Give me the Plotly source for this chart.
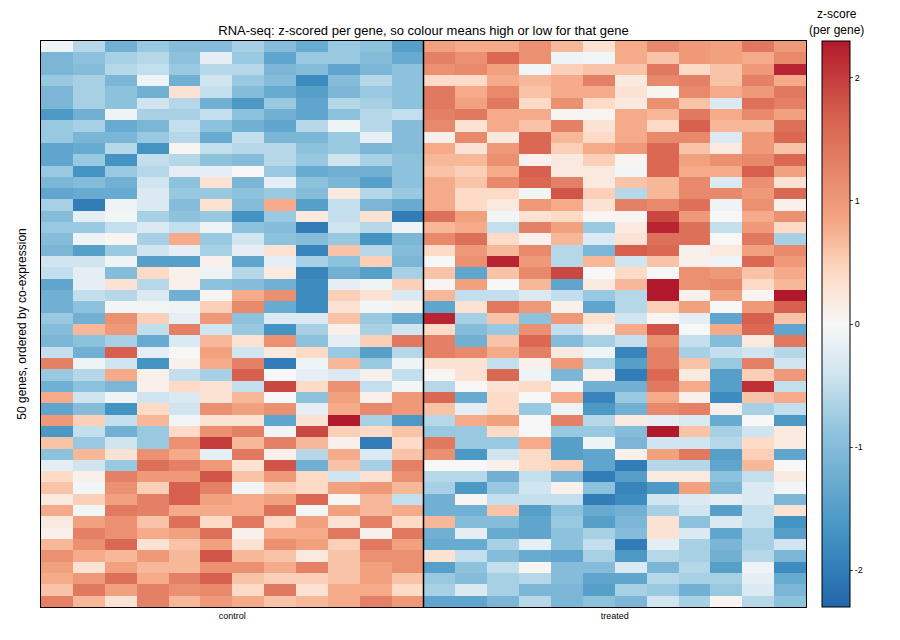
import plotly.graph_objects as go

control = [
[-0.1,-0.6,-1.2,-0.8,-1.0,-1.0,-0.7,-1.0,-1.3,-0.8,-0.9,-1.5],
[-1.1,-0.9,-0.7,-0.6,-0.9,-0.2,-0.8,-1.4,-0.8,-0.8,-1.0,-1.3],
[-1.1,-1.0,-0.6,-0.5,-0.8,-0.6,-0.6,-1.1,-1.0,-1.4,-1.1,-0.9],
[-0.8,-0.7,-1.1,-0.1,-1.2,-0.4,-0.8,-1.0,-1.8,-1.0,-0.6,-0.9],
[-1.1,-0.7,-0.9,-1.2,0.3,-0.5,-1.0,-1.3,-1.5,-1.1,-0.8,-0.9],
[-1.1,-0.7,-0.9,-0.4,-0.6,-1.2,-1.6,-0.8,-1.4,-0.6,-0.7,-0.9],
[-1.6,-1.2,-0.1,-0.7,-0.7,-0.5,-0.9,-1.2,-1.4,-0.9,-0.6,-0.5],
[-0.8,-0.7,-1.3,-1.1,-0.5,-0.9,-1.2,-1.4,-0.6,-0.1,-0.6,-1.0],
[-0.8,-1.1,-1.1,-0.8,-0.6,-1.3,-0.5,-1.1,-1.1,-0.8,-0.2,-1.0],
[-1.4,-1.3,-0.6,-1.7,0.05,-0.5,-0.6,-0.6,-0.9,-0.8,-1.1,-1.0],
[-1.4,-0.8,-1.7,-0.5,-0.6,-0.9,-1.0,-0.6,-0.8,-0.4,-0.7,-0.9],
[-0.8,-1.7,-0.8,-0.6,-0.2,-0.2,0.0,-0.8,-1.3,-1.2,-1.2,-0.9],
[-1.1,-1.0,-1.2,-0.4,-0.9,0.3,-1.1,-0.2,-0.9,-1.1,-1.5,-0.9],
[-1.4,-1.3,-1.3,-0.3,-0.8,-0.8,-0.9,-0.8,-1.0,0.2,-0.6,-0.8],
[-0.7,-2.0,-0.1,-0.3,-1.0,0.3,-1.0,0.8,-1.5,-0.5,-1.1,-1.3],
[-1.0,-0.2,-0.05,-0.7,-0.9,-0.8,-1.7,-0.8,0.2,-0.5,0.3,-2.0],
[-0.8,-0.8,-0.5,-0.3,-0.5,-0.1,-0.9,-1.0,-2.0,-0.4,-0.6,-0.1],
[-1.0,-0.1,0.05,-0.7,0.8,-0.8,-0.4,-0.9,-1.0,-0.8,-1.7,-1.1],
[-1.1,-1.5,-0.8,-0.4,-0.2,-0.7,-0.2,0.3,-1.9,0.6,-0.6,-1.0],
[-0.4,-0.4,-0.1,-1.5,-1.5,0.1,-1.4,-0.2,-0.7,-0.9,0.5,-1.1],
[-0.5,-0.2,-1.0,0.4,0.1,-0.1,-0.6,0.2,-1.9,-1.2,-1.5,-0.7],
[-1.4,-0.2,0.3,-0.6,0.1,-0.9,-1.0,-1.2,-1.8,-0.2,-0.1,0.5],
[-1.2,-0.5,-0.6,-0.3,-1.2,0.05,0.8,1.1,-1.8,0.5,0.3,-0.3],
[-1.2,-0.9,-0.05,-0.05,-0.1,0.5,1.2,-1.3,-1.8,0.3,-0.05,0.1],
[-0.8,-1.2,1.1,0.5,-0.2,1.0,-0.9,-0.3,-0.3,0.6,-0.8,-1.3],
[-1.0,0.7,1.0,-0.5,1.3,-0.4,-0.8,-1.7,-0.7,0.1,-0.7,-0.4],
[-1.1,-0.9,-0.7,-1.3,-0.3,0.7,0.3,1.1,-0.9,-0.2,0.5,1.4],
[-0.5,-1.2,1.7,-0.2,0.0,0.9,-0.4,0.2,0.4,-0.8,-1.5,-0.6],
[1.3,-0.1,-0.4,-1.7,0.1,0.8,1.3,-2.0,-0.1,0.7,-0.8,-0.1],
[-0.8,-0.6,0.8,0.1,-0.5,-0.7,1.7,0.0,-0.2,-0.3,0.1,-0.5],
[-1.2,-0.9,-1.1,0.1,0.4,0.3,-0.5,1.9,0.4,1.1,-0.5,-0.05],
[0.8,-0.4,-0.1,-0.4,-0.3,0.3,0.7,0.0,-0.9,0.9,0.1,1.0],
[-1.4,-1.0,-1.7,0.4,-0.4,1.1,0.9,1.1,-0.2,0.8,1.2,1.0],
[1.0,0.5,-0.5,0.7,-0.05,0.3,0.3,-1.4,0.3,2.3,-0.7,-1.6],
[-1.6,-0.5,-1.2,-0.8,0.4,1.1,1.3,-0.05,1.9,0.5,0.4,0.6],
[0.6,-0.8,-0.4,-0.8,1.1,2.0,0.7,1.3,0.7,0.1,-2.0,0.4],
[-0.9,0.7,0.3,1.1,0.8,-0.2,1.4,0.1,-0.6,0.8,-0.3,0.6],
[-0.2,-0.4,-0.8,1.5,1.3,1.0,0.3,1.8,-1.2,0.6,-0.7,1.3],
[0.4,0.1,1.3,1.0,1.0,1.8,0.6,1.0,0.4,-0.4,0.3,1.1],
[0.6,-0.05,1.1,0.5,1.7,1.3,-0.05,0.5,0.4,0.9,1.0,0.7],
[0.2,0.5,0.9,1.3,1.7,0.9,0.8,0.9,1.6,0.05,0.7,-0.5],
[0.8,-0.05,1.4,1.3,0.8,0.8,0.8,1.5,-0.05,0.9,0.7,0.8],
[0.2,0.9,1.1,0.6,1.5,0.4,1.4,0.4,0.9,0.3,1.3,0.4],
[0.1,1.3,1.1,0.8,0.9,1.5,0.1,0.8,0.8,1.4,0.1,1.4],
[0.7,1.1,1.6,0.3,0.6,0.9,0.3,1.1,0.9,0.5,1.4,0.9],
[1.1,0.8,0.7,1.0,0.7,1.8,0.7,0.6,0.2,0.6,1.1,1.1],
[0.9,0.3,0.9,0.7,0.7,1.1,1.1,0.8,1.3,0.6,0.9,1.1],
[0.8,1.0,1.5,0.8,1.3,1.7,0.6,0.5,0.5,0.6,0.9,0.6],
[0.6,1.4,0.9,1.3,1.1,1.2,0.4,1.4,0.3,0.8,0.8,0.4],
[1.3,0.7,0.3,1.3,0.7,1.0,0.8,0.6,0.7,0.8,1.3,1.0],
]

treated = [
[0.9,0.8,0.8,1.1,0.7,0.3,0.8,1.2,1.0,0.9,1.4,1.0],
[1.3,1.1,1.6,1.1,-0.1,-0.05,0.8,0.6,1.0,0.9,0.8,1.2],
[1.1,1.2,0.9,-0.05,0.5,0.6,0.6,1.4,0.4,0.6,1.0,2.2],
[0.4,0.4,0.8,0.7,0.8,1.3,0.2,1.2,1.3,0.6,1.3,0.8],
[1.4,0.8,1.2,0.6,0.8,0.8,0.3,0.05,1.2,0.8,1.0,1.4],
[1.4,0.9,1.4,0.4,1.1,0.4,0.2,1.1,0.6,-0.3,1.5,1.3],
[1.3,1.4,0.8,0.8,0.05,0.05,0.8,0.7,1.4,0.8,1.2,0.9],
[1.2,0.3,0.8,0.6,1.3,0.3,0.8,0.4,1.7,0.7,0.7,1.5],
[0.1,1.2,0.2,1.6,0.7,0.4,0.8,1.2,1.2,-0.3,1.0,1.6],
[0.8,0.3,1.0,1.6,0.5,0.8,1.0,1.6,0.6,0.2,1.0,0.6],
[0.7,0.7,1.1,0.1,0.2,0.5,0.05,1.6,0.9,1.1,1.2,1.6],
[0.6,0.5,0.8,1.7,0.2,0.2,-0.05,1.6,0.8,0.8,1.7,0.9],
[0.8,0.6,1.2,1.6,1.3,0.2,0.6,0.7,1.2,-0.3,1.1,0.3],
[0.8,0.4,0.4,-0.05,1.8,0.5,-0.6,0.7,1.2,1.2,1.0,1.6],
[0.8,0.4,0.2,1.0,0.8,0.3,1.3,1.2,1.5,-0.1,1.1,0.1],
[1.5,0.9,-0.05,0.3,0.4,0.05,0.05,1.9,1.0,0.0,0.8,1.1],
[0.7,0.8,-0.5,1.3,0.9,-0.8,0.2,2.2,1.5,-0.5,1.0,0.4],
[1.2,1.5,0.4,0.1,0.7,-0.3,0.3,1.5,1.5,0.0,1.4,-0.7],
[0.4,1.0,0.7,1.2,-0.6,-1.1,1.7,1.6,0.1,0.2,0.9,1.2],
[0.0,1.1,2.2,1.0,-0.6,0.7,-0.4,0.6,0.1,-0.1,1.6,1.0],
[0.6,-1.4,0.6,1.2,1.9,0.0,0.4,0.0,1.1,1.0,0.6,0.8],
[0.05,0.9,0.0,0.7,-1.4,0.2,0.7,2.3,1.1,1.2,0.4,0.7],
[0.7,-0.5,-0.5,-0.3,-0.5,-0.8,-0.6,2.3,0.1,0.9,0.05,2.3],
[-1.4,0.3,1.4,1.0,0.1,-1.4,-0.6,0.5,0.9,0.0,1.0,1.7],
[2.2,-0.7,0.6,-0.9,1.0,0.3,-0.4,0.05,-0.2,-1.4,1.7,0.6],
[0.4,-1.0,-0.8,1.1,-0.5,0.1,0.8,1.8,0.0,0.8,1.6,-1.4],
[1.3,-1.2,0.6,1.6,-1.0,-0.7,-0.5,1.1,-0.5,-1.0,0.2,1.4],
[1.3,1.2,0.8,1.3,0.2,-0.1,-1.9,1.3,-0.7,-0.5,-0.4,-0.6],
[0.3,0.3,-0.5,0.1,1.0,-0.7,-1.5,1.3,0.6,-0.8,1.3,-0.4],
[0.05,0.3,1.6,-0.1,-1.1,0.1,-2.0,1.6,0.2,-1.5,0.5,1.0],
[-0.6,0.0,0.3,0.4,-0.05,-1.2,-1.2,1.4,0.8,-1.5,2.1,-0.5],
[1.6,-1.3,0.4,0.0,0.8,-1.9,-0.8,0.8,0.1,-1.8,0.6,0.8],
[0.6,-0.2,0.4,-0.8,-0.1,-1.6,-1.2,1.2,1.3,0.1,-0.7,-0.5],
[-0.6,0.8,0.9,0.0,1.3,-0.6,0.2,-0.2,-0.3,-1.3,0.0,-1.6],
[-0.8,-0.8,0.4,0.0,-0.8,-0.8,-1.0,2.3,0.6,-0.7,-0.4,0.2],
[1.4,-0.8,-0.8,0.8,-1.5,-0.1,-1.1,-0.4,-0.4,-0.6,0.4,0.2],
[1.1,-1.6,-0.4,0.4,-1.5,-1.4,0.1,0.9,1.4,-1.5,0.5,-1.4],
[0.0,0.0,0.1,0.4,0.5,-1.4,-2.0,-0.6,-0.6,-1.4,0.7,0.0],
[-0.6,-0.6,-1.2,-0.5,-1.1,-2.0,-1.5,0.2,0.2,-0.9,-0.5,0.2],
[-0.7,-1.6,-0.8,-0.4,0.1,-0.9,-1.9,-1.6,0.9,-1.1,-0.3,-0.05],
[-1.2,0.05,-0.5,-0.5,-0.5,-2.0,-1.8,-0.4,-0.3,-0.2,-0.3,-1.1],
[-1.2,-1.2,0.6,-1.5,-0.9,-1.3,-1.2,-0.7,-0.4,-1.5,-0.5,0.3],
[0.7,-1.0,-1.0,-1.4,-0.8,-1.5,-1.1,0.3,-0.9,-0.3,-0.5,-1.7],
[-1.2,-0.2,-1.3,-1.4,-0.9,-0.7,-1.0,0.3,-0.3,-1.4,-0.7,-1.5],
[-1.3,-1.3,-0.7,-0.2,-0.9,-0.5,-2.0,-0.2,-0.7,-1.1,-0.7,-0.4],
[0.3,-0.5,-1.0,-1.3,-1.4,-0.7,-1.6,-0.6,-0.7,-1.2,-0.6,-1.1],
[-1.5,-0.9,-0.5,0.05,-1.0,-1.0,-0.3,-1.1,-0.6,-1.5,-0.1,-1.8],
[-0.8,-1.0,-0.7,-0.6,-1.0,-1.4,-1.4,-0.6,-0.7,-0.7,-0.2,-1.3],
[-0.7,-0.3,-0.7,-1.1,-1.1,-1.5,-0.7,-0.8,-1.2,-0.8,-0.3,-1.1],
[-1.4,-1.4,-1.1,-0.6,-1.1,-0.9,-1.1,-0.4,-0.7,0.05,-0.6,-0.9],
]

group_labels = ["control", "treated"]
n_per_group = 12
zlim = 2.3

z = [c + t for c, t in zip(control, treated)]
n_cols = len(z[0])

stops = [(-2.3, "#2166ac"), (-1.7, "#4393c3"), (-0.85, "#92c5de"), (-0.4, "#d1e5f0"),
         (0.0, "#f7f7f7"), (0.4, "#fddbc7"), (0.85, "#f4a582"), (1.7, "#d6604d"), (2.3, "#b2182b")]
colorscale = [[(v + zlim) / (2 * zlim), c] for v, c in stops]

fig = go.Figure(go.Heatmap(
    z=z, x=list(range(n_cols)), y=list(range(len(z))),
    colorscale=colorscale, zmin=-zlim, zmax=zlim,
    colorbar=dict(
        tickvals=[-2, -1, 0, 1, 2], ticktext=["-2", "-1", "0", "1", "2"],
        tickfont=dict(size=9), thickness=28, len=1, lenmode="fraction",
        x=1.021, xanchor="left", y=0.5, yanchor="middle",
        outlinecolor="black", outlinewidth=1, ticks="outside", ticklen=3,
        tickcolor="#444", xpad=0, ypad=0,
    ),
))

fig.add_vline(x=n_per_group - 0.5, line=dict(color="black", width=1.5))

fig.add_annotation(text="z-score<br>(per gene)", xref="paper", yref="paper",
                   x=1.021 + 14 / 765, y=1.0, xanchor="center", yanchor="bottom",
                   yshift=2, showarrow=False, font=dict(size=12))

fig.update_layout(
    width=900, height=640,
    margin=dict(l=33, r=102, t=33, b=41),
    paper_bgcolor="white", plot_bgcolor="white",
    font=dict(family="Liberation Sans, Arial, sans-serif", color="black"),
    title=dict(text="RNA-seq: z-scored per gene, so colour means high or low for that gene",
               x=0.5, xref="paper", xanchor="center", y=1.0, yref="paper", yanchor="bottom",
               pad=dict(b=6), font=dict(size=13)),
    xaxis=dict(tickvals=[(n_per_group - 1) / 2, n_per_group + (n_per_group - 1) / 2],
               ticktext=group_labels, tickfont=dict(size=9), ticks="",
               showline=True, linecolor="black", mirror=True, linewidth=1,
               range=[-0.5, n_cols - 0.5], showgrid=False, zeroline=False, automargin=False),
    yaxis=dict(autorange="reversed", showticklabels=False, ticks="",
               showline=True, linecolor="black", mirror=True, linewidth=1,
               showgrid=False, zeroline=False, automargin=False,
               title=dict(text="50 genes, ordered by co-expression", font=dict(size=12), standoff=10)),
)

fig.write_html("out.html")
